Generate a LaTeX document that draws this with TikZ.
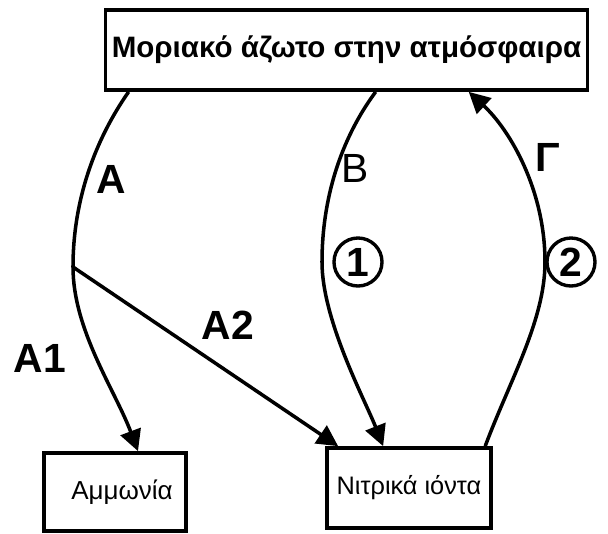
\documentclass[tikz,border=0pt]{standalone}
\usepackage{fontspec}
\setmainfont{Liberation Sans}
\usepackage{tikz}
\usetikzlibrary{arrows.meta, positioning}
\tikzset{
    box/.style={rectangle, draw=black, line width=2.6pt, text centered, inner sep=0pt},
    flow/.style={line width=2.5pt, -{Triangle[length=15pt, width=15pt]}},
    plain/.style={line width=2.5pt},
    lbl/.style={font=\fontsize{29}{31}\selectfont\bfseries},
    num/.style={circle, draw=black, line width=2.4pt, minimum size=1.2cm, inner sep=0pt, fill=white, font=\fontsize{29}{31}\selectfont\bfseries}
}

\begin{document}
\begin{tikzpicture}[x=0.025cm, y=-0.025cm]
    \useasboundingbox (0,0) rectangle (608,534);

    \node (atmos) [box, minimum width=12.05cm, minimum height=2cm, font=\fontsize{21}{23}\selectfont\bfseries] at (346.5,50) {Μοριακό άζωτο στην ατμόσφαιρα};
    \node (ammonia) [box, minimum width=3.55cm, minimum height=1.95cm, font=\fontsize{18.5}{20}\selectfont] at (115,492) {\hspace{0.35cm}Αμμωνία};
    \node (nitrate) [box, minimum width=4.1cm, minimum height=2cm, font=\fontsize{18}{20}\selectfont] at (409,488) {Νιτρικά ιόντα};

    \coordinate (split) at (73,267);

    % A, then A1 and A2
    \draw [plain] ([xshift=0.625cm]atmos.south west) .. controls (95,140) and (73,200) .. (split);
    \draw [flow] (split) .. controls (73,330) and (115,390) .. ([xshift=0.575cm]ammonia.north);
    \draw [flow] (split) -- ([xshift=0.325cm]nitrate.north west);

    % B
    \draw [flow] ([xshift=6.8cm]atmos.south west) .. controls (340,140) and (322,200) .. (322,262)
        .. controls (322,320) and (365,400) .. ([xshift=1.45cm]nitrate.north west);

    % Gamma
    \draw [flow] ([xshift=4cm]nitrate.north west) .. controls (510,380) and (545,320) .. (545,262)
        .. controls (545,190) and (510,130) .. ([xshift=9.125cm]atmos.south west);

    \node (one) [num] at (358,262) {1};
    \node (two) [num] at (571,262) {2};

    \node (labA) [lbl] at (111,179) {Α};
    \node (labA1) [lbl] at (40,358) {Α1};
    \node (labA2) [lbl] at (228,325) {Α2};
    \node (labB) [lbl, font=\fontsize{29}{31}\selectfont] at (355,168) {Β};
    \node (labG) [lbl] at (548,157) {Γ};
\end{tikzpicture}
\end{document}
